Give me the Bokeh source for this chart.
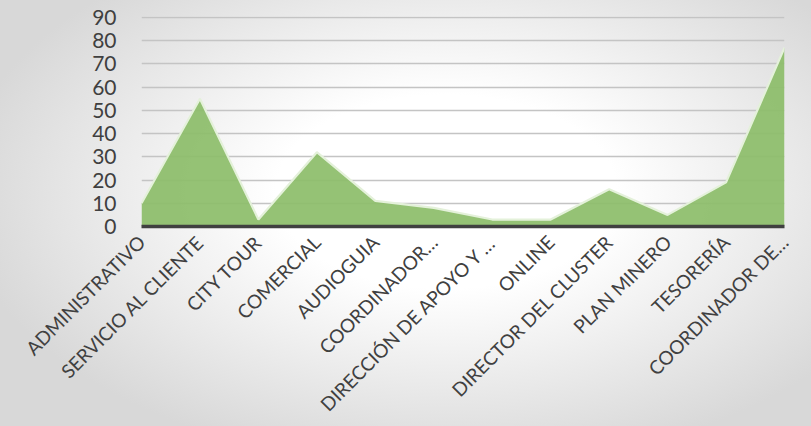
from bokeh.plotting import figure
from bokeh.models import Range1d, FixedTicker, ColumnDataSource
from bokeh.embed import file_html
from bokeh.resources import INLINE

categories = ["ADMINISTRATIVO", "SERVICIO AL CLIENTE", "CITY TOUR", "COMERCIAL",
              "AUDIOGUIA", "COORDINADOR…", "DIRECCIÓN DE APOYO Y …", "ONLINE",
              "DIRECTOR DEL CLUSTER", "PLAN MINERO", "TESORERÍA", "COORDINADOR DE…"]
values = [10, 55, 3, 32, 11, 8, 3, 3, 16, 5, 19, 77]
y_ticks = [0, 10, 20, 30, 40, 50, 60, 70, 80, 90]

xs = list(range(len(categories)))
src = ColumnDataSource(dict(x=xs, y=values, base=[0] * len(xs)))

p = figure(width=811, height=426, output_backend="svg", toolbar_location=None,
           x_range=Range1d(0, len(categories) - 1), y_range=Range1d(0, 90.4),
           min_border_left=141, min_border_right=27, min_border_top=16, min_border_bottom=199)
p.border_fill_color = None
p.background_fill_color = None
p.outline_line_color = None
p.styles = {"background": "radial-gradient(ellipse 60% 65% at 55% 45%, #ffffff 35%, #d8d8d8 100%)"}

p.varea(x="x", y1="base", y2="y", source=src, fill_color="#8cbd69", fill_alpha=0.92)
p.line(x="x", y="y", source=src, line_color="#e4f1da", line_width=2.2)

p.xaxis.ticker = FixedTicker(ticks=xs)
p.xaxis.major_label_overrides = {i: c for i, c in enumerate(categories)}
p.xaxis.major_label_orientation = 0.785
p.xaxis.major_tick_line_color = None
p.xaxis.minor_tick_line_color = None
p.xaxis.major_tick_out = 0
p.xaxis.major_tick_in = 0
p.xaxis.minor_tick_out = 0
p.xaxis.axis_line_color = "#404040"
p.xaxis.axis_line_width = 3.5
p.xaxis.major_label_text_font = "Lato"
p.xaxis.major_label_text_font_size = "19px"
p.xaxis.major_label_text_color = "#404040"
p.xaxis.major_label_standoff = 12

p.yaxis.ticker = FixedTicker(ticks=y_ticks)
p.yaxis.axis_line_color = None
p.yaxis.major_tick_line_color = None
p.yaxis.minor_tick_line_color = None
p.yaxis.major_label_text_font = "Lato"
p.yaxis.major_label_text_font_size = "21px"
p.yaxis.major_label_text_color = "#404040"
p.yaxis.major_label_standoff = 19

p.xgrid.grid_line_color = None
p.ygrid.ticker = FixedTicker(ticks=y_ticks)
p.ygrid.grid_line_color = "#c4c4c4"
p.ygrid.grid_line_width = 1.6
p.ygrid.level = "underlay"

open("out.html", "w").write(file_html(p, INLINE))
